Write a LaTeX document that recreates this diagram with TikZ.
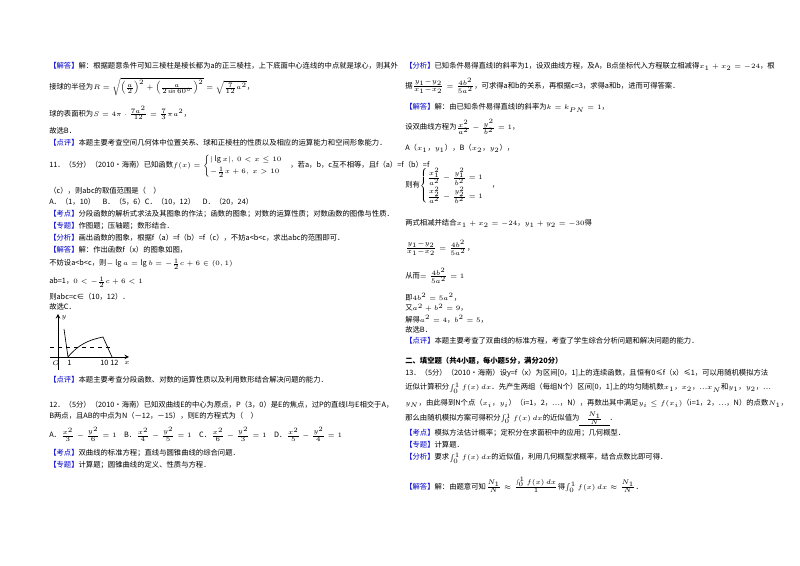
\documentclass[tikz,border=0pt]{standalone}
\usepackage{fontspec}
\usepackage{amsmath}
\setmainfont{Noto Sans CJK SC}
\newcommand{\lb}[1]{\textcolor{blue!80!black}{【#1】}}
\tikzset{t/.style={anchor=west,inner sep=0pt,font=\fontsize{5.5}{6}\selectfont},x=0.75pt,y=-0.75pt}
\begin{document}
\begin{tikzpicture}
\useasboundingbox (0,0) rectangle (800,566);
\fill[white] (0,0) rectangle (800,566);
% left column
\node[t] (l1) at (49,66) {\lb{解答}解：根据题意条件可知三棱柱是棱长都为a的正三棱柱，上下底面中心连线的中点就是球心，则其外};
\node[t] (l2) at (49,87) {接球的半径为$R=\sqrt{\left(\frac{a}{2}\right)^2+\left(\frac{a}{2\sin60^\circ}\right)^2}=\sqrt{\frac{7}{12}a^2}$，};
\node[t] (l3) at (49,113) {球的表面积为$S=4\pi\cdot\frac{7a^2}{12}=\frac{7}{3}\pi a^2$，};
\node[t] (l4) at (49,131) {故选B．};
\node[t] (l5) at (49,143) {\lb{点评}本题主要考查空间几何体中位置关系、球和正棱柱的性质以及相应的运算能力和空间形象能力．};
\node[t] (l6) at (49,166) {11．（5分）（2010•海南）已知函数$f(x)=\begin{cases}|\lg x|,\ 0<x\le 10\\[2pt] -\frac{1}{2}x+6,\ x>10\end{cases}$，若a，b，c互不相等，且f（a）=f（b）=f};
\node[t] (l7) at (49,191) {（c），则abc的取值范围是（\quad ）};
\node[t] (l8) at (49,202) {A．（1，10）\quad B．（5，6）C．（10，12）\quad D．（20，24）};
\node[t] (l9) at (49,214) {\lb{考点}分段函数的解析式求法及其图象的作法；函数的图象；对数的运算性质；对数函数的图像与性质．};
\node[t] (l10) at (49,226) {\lb{专题}作图题；压轴题；数形结合．};
\node[t] (l11) at (49,238) {\lb{分析}画出函数的图象，根据f（a）=f（b）=f（c），不妨a<b<c，求出abc的范围即可．};
\node[t] (l12) at (49,250) {\lb{解答}解：作出函数f（x）的图象如图，};
\node[t] (l13) at (49,264) {不妨设a<b<c，则$-\lg a=\lg b=-\frac{1}{2}c+6\in(0,1)$};
\node[t] (l14) at (49,282) {ab=1，$0<-\frac{1}{2}c+6<1$};
\node[t] (l15) at (49,297) {则abc=c∈（10，12）．};
\node[t] (l16) at (49,307) {故选C．};
% graph
\coordinate (ox) at (50,357); \coordinate (xe) at (129,357);
\coordinate (oy) at (58,370); \coordinate (ye) at (58,314);
\draw[-stealth,line width=0.5pt] (ox) -- (xe);
\draw[-stealth,line width=0.5pt] (oy) -- (ye);
\draw[dashed,line width=0.3pt] (50,347) -- (113,347);
\draw[line width=0.5pt] (64,329) -- (68,357) .. controls (78,345) and (88,340) .. (103,337) -- (112,357);
\node[t] (gy) at (61,318) {$y$};
\node[t] (go) at (52,363) {$O$};
\node[t] (g1) at (67,363) {1};
\node[t] (g10) at (100,363) {10};
\node[t] (g12) at (110,363) {12};
\node[t] (gx) at (124,363) {$x$};
\node[t] (l17) at (49,380) {\lb{点评}本题主要考查分段函数、对数的运算性质以及利用数形结合解决问题的能力．};
\node[t] (l18) at (49,405) {12．（5分）（2010•海南）已知双曲线E的中心为原点，P（3，0）是E的焦点，过P的直线l与E相交于A，};
\node[t] (l19) at (49,416) {B两点，且AB的中点为N（－12，－15），则E的方程式为（\quad ）};
\node[t] (l20) at (49,434) {A．$\frac{x^2}{3}-\frac{y^2}{6}=1$\quad B．$\frac{x^2}{4}-\frac{y^2}{5}=1$\quad C．$\frac{x^2}{6}-\frac{y^2}{3}=1$\quad D．$\frac{x^2}{5}-\frac{y^2}{4}=1$};
\node[t] (l21) at (49,453) {\lb{考点}双曲线的标准方程；直线与圆锥曲线的综合问题．};
\node[t] (l22) at (49,465) {\lb{专题}计算题；圆锥曲线的定义、性质与方程．};
% right column
\node[t] (r1) at (405,66) {\lb{分析}已知条件易得直线l的斜率为1，设双曲线方程，及A，B点坐标代入方程联立相减得$x_1+x_2=-24$，根};
\node[t] (r2) at (405,86) {据$\frac{y_1-y_2}{x_1-x_2}=\frac{4b^2}{5a^2}$，可求得a和b的关系，再根据c=3，求得a和b，进而可得答案．};
\node[t] (r3) at (405,108) {\lb{解答}解：由已知条件易得直线l的斜率为$k=k_{PN}=1$，};
\node[t] (r4) at (405,127) {设双曲线方程为$\frac{x^2}{a^2}-\frac{y^2}{b^2}=1$，};
\node[t] (r5) at (405,148) {A（$x_1$，$y_1$），B（$x_2$，$y_2$），};
\node[t] (r6) at (405,186) {则有$\begin{cases}\frac{x_1^2}{a^2}-\frac{y_1^2}{b^2}=1\\[3pt] \frac{x_2^2}{a^2}-\frac{y_2^2}{b^2}=1\end{cases}$，};
\node[t] (r7) at (405,223) {两式相减并结合$x_1+x_2=-24$，$y_1+y_2=-30$得};
\node[t] (r8) at (405,248) {$\frac{y_1-y_2}{x_1-x_2}=\frac{4b^2}{5a^2}$，};
\node[t] (r9) at (405,276) {从而$=\frac{4b^2}{5a^2}=1$};
\node[t] (r10) at (405,297) {即$4b^2=5a^2$，};
\node[t] (r11) at (405,308) {又$a^2+b^2=9$，};
\node[t] (r12) at (405,319) {解得$a^2=4$，$b^2=5$，};
\node[t] (r13) at (405,330) {故选B．};
\node[t] (r14) at (405,341) {\lb{点评}本题主要考查了双曲线的标准方程，考查了学生综合分析问题和解决问题的能力．};
\node[t,font=\fontsize{5.5}{6}\selectfont\bfseries] (r15) at (405,361) {二、填空题（共4小题，每小题5分，满分20分）};
\node[t] (r16) at (405,373) {13．（5分）（2010•海南）设y=f（x）为区间[0，1]上的连续函数，且恒有0≤f（x）≤1，可以用随机模拟方法};
\node[t] (r17) at (405,388) {近似计算积分$\int_0^1 f(x)\,dx$．先产生两组（每组N个）区间[0，1]上的均匀随机数$x_1$，$x_2$，…$x_N$和$y_1$，$y_2$，…};
\node[t] (r18) at (405,403) {$y_N$，由此得到N个点（$x_i$，$y_i$）（i=1，2，…，N），再数出其中满足$y_i\le f(x_i)$（i=1，2，…，N）的点数$N_1$，};
\node[t] (r19) at (405,419) {那么由随机模拟方案可得积分$\int_0^1 f(x)\,dx$的近似值为\underline{\quad$\frac{N_1}{N}$\quad}．};
\node[t] (r20) at (405,433) {\lb{考点}模拟方法估计概率；定积分在求面积中的应用；几何概型．};
\node[t] (r21) at (405,445) {\lb{专题}计算题．};
\node[t] (r22) at (405,458) {\lb{分析}要求$\int_0^1 f(x)\,dx$的近似值，利用几何概型求概率，结合点数比即可得．};
\node[t] (r23) at (405,485) {\lb{解答}解：由题意可知$\frac{N_1}{N}\approx\frac{\int_0^1 f(x)\,dx}{1}$得$\int_0^1 f(x)\,dx\approx\frac{N_1}{N}$．};
\end{tikzpicture}
\end{document}
